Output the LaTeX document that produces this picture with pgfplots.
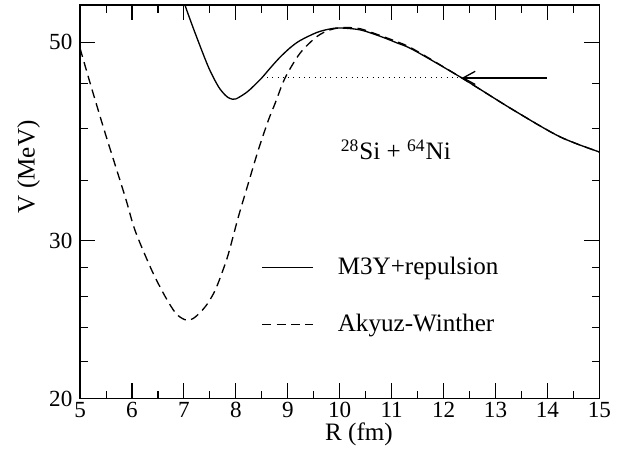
\documentclass[border=0pt]{standalone}
\usepackage{fontspec}
\setmainfont{Liberation Serif}
\usepackage{pgfplots}
\pgfplotsset{compat=1.18}
\usetikzlibrary{arrows.meta}

% M3Y+repulsion potential
\pgfplotstableread{
R      V
6.95   57.0
7.02   55.0
7.214  51.2
7.471  46.9
7.663  44.6
7.80   43.6
7.888  43.25
8.0    43.2
8.21   43.95
8.35   44.7
8.499  45.6
8.68   46.9
8.852  48.1
9.05   49.3
9.237  50.2
9.558  51.25
9.80   51.7
10.0   51.85
10.39  51.6
10.78  50.75
11.10  49.9
11.42  49.0
12.35  45.6
13.34  42.0
14.24  39.2
15.0   37.7
}\mththree

% Akyuz-Winther potential
\pgfplotstableread{
R      V
5.0    49.2
5.193  45.0
5.481  39.6
5.867  33.6
6.059  30.8
6.381  27.8
6.637  26.0
6.829  24.95
6.95   24.6
7.06   24.45
7.17   24.55
7.30   24.9
7.45   25.5
7.60   26.4
7.73   27.6
7.856  29.0
8.048  31.9
8.241  34.8
8.433  37.9
8.626  40.9
8.755  42.7
8.948  45.6
9.237  48.6
9.558  50.7
9.814  51.6
10.07  51.9
10.39  51.75
10.78  50.85
11.10  50.05
11.42  49.1
12.35  45.6
13.34  42.0
14.24  39.2
15.0   37.7
}\akyuz

\begin{document}
\begin{tikzpicture}
\begin{axis}[
  scale only axis,
  width=236pt, height=178.8pt,
  xmin=5, xmax=15, ymin=20, ymax=55,
  ymode=log,
  xtick={5,6,...,15}, minor x tick num=1,
  ytick={20,30,50}, yticklabels={20,30,50},
  minor ytick={22,24,26,28,35,40,45},
  major tick length=7pt, minor tick length=3.5pt,
  tick style={black, line width=0.5pt},
  axis line style={line width=0.6pt},
  /pgf/number format/assume math mode=true,
  tick label style={font=\fontsize{10.5}{12}\selectfont},
  xticklabel style={inner ysep=1.5pt},
  label style={font=\fontsize{11.4}{13}\selectfont},
  xlabel={R (fm)}, ylabel={V (MeV)},
  xlabel style={at={(axis description cs:0.537,-0.09)}, anchor=center},
  ylabel style={at={(axis description cs:-0.099,0.589)}, anchor=center},
  legend image code/.code={\draw[#1] (0pt,0pt) -- (23pt,0pt); \path (32pt,0pt);},
  legend style={draw=none, fill=none, inner sep=0pt,
    font=\fontsize{11.4}{13}\selectfont,
    at={(axis description cs:0.349,0.372)}, anchor=north west,
    row sep=12.5pt, cells={anchor=west}},
]
\addplot[black, line width=0.6pt, smooth, tension=0.5] table[x=R, y=V] {\mththree};
\addlegendentry{M3Y+repulsion}
\addplot[black, line width=0.6pt, smooth, tension=0.5, dash pattern=on 4pt off 2.5pt] table[x=R, y=V] {\akyuz};
\addlegendentry{Akyuz-Winther}
\addplot[black, line width=0.4pt, dotted, forget plot] coordinates {(8.499,45.6) (12.35,45.6)};
\addplot[black, line width=0.6pt, -{Straight Barb[length=5.5pt,width=6pt]}, forget plot] coordinates {(13.99,45.6) (12.35,45.6)};
\node[font=\fontsize{11.4}{13}\selectfont] at (axis cs:11.08,37.9) {\textsuperscript{28}Si + \textsuperscript{64}Ni};
\end{axis}
\path (current axis.south west) ++(-36.4pt,-22.1pt);
\path (current axis.north east) ++(10.3pt,2.3pt);
\end{tikzpicture}
\end{document}
